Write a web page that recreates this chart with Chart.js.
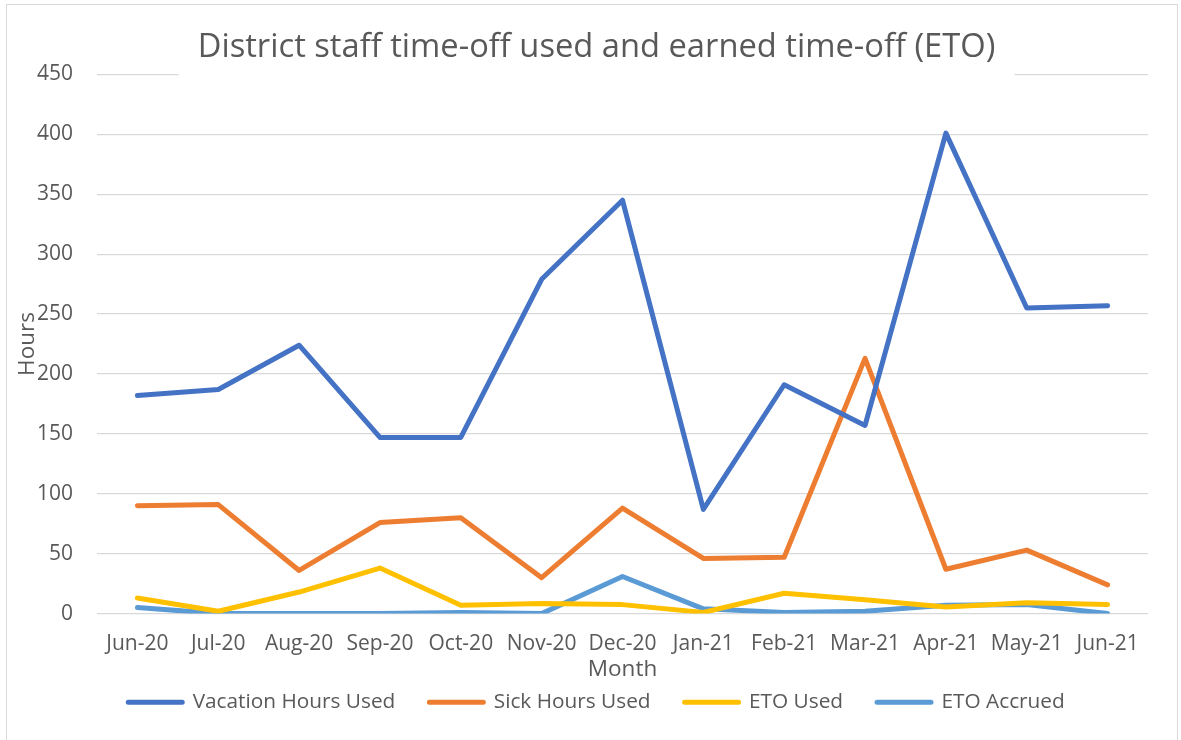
<!DOCTYPE html>
<html>
<head>
<meta charset="utf-8">
<script src="https://cdn.jsdelivr.net/npm/chart.js@4"></script>
<style>
  html, body { margin: 0; padding: 0; background: #fff; overflow: hidden; }
  #wrap { position: relative; width: 1181px; height: 740px; }
  #frame { position: absolute; left: 6px; top: 4px; width: 1170px; height: 760px; border: 1px solid #d9d9d9; pointer-events: none; }
</style>
</head>
<body>
<div id="wrap">
  <canvas id="chart" width="1181" height="740"></canvas>
  <div id="frame"></div>
</div>
<script>
const months = ['Jun-20', 'Jul-20', 'Aug-20', 'Sep-20', 'Oct-20', 'Nov-20', 'Dec-20', 'Jan-21', 'Feb-21', 'Mar-21', 'Apr-21', 'May-21', 'Jun-21']
const vacationUsed = [182, 187, 224, 147, 147, 279, 345, 87, 191, 157, 401, 255, 257]
const sickUsed = [90, 91, 36, 76, 80, 30, 88, 46, 47, 213, 37, 53, 24]
const etoUsed = [13, 2, 18, 38, 7, 8.5, 7.5, 1, 17, 11.5, 5.5, 9, 7.5]
const etoAccrued = [5, 0, 0, 0, 1, 0, 31, 4, 1, 2, 7, 7.5, 0]
const yTicks = [0, 50, 100, 150, 200, 250, 300, 350, 400, 450]

const titleText = 'District staff time-off used and earned time-off (ETO)'
const textColor = '#595959'
const gridColor = '#d9d9d9'

Chart.defaults.font.family = "'Open Sans', sans-serif"
Chart.defaults.color = textColor

const line = (label, data, color) => ({
    label: label,
    data: data,
    borderColor: color,
    backgroundColor: color,
    borderWidth: 5,
    pointRadius: 0,
    tension: 0,
    borderCapStyle: 'round',
    borderJoinStyle: 'round'
})

// white box behind the title that cuts the top gridline
const titleGap = {
    id: 'titleGap',
    beforeDatasetsDraw(chart) {
        const {ctx, chartArea} = chart
        ctx.save()
        ctx.font = "normal 32.7px 'Open Sans', sans-serif"
        const w = ctx.measureText(titleText).width
        const tb = chart.titleBlock
        const cx = tb ? (tb.left + tb.right) / 2 : chart.width / 2
        ctx.fillStyle = '#fff'
        ctx.fillRect(cx - w / 2 - 19, chartArea.top - 3, w + 38, 6)
        ctx.restore()
    }
}

new Chart(document.getElementById('chart').getContext('2d'), {
    type: 'line',
    data: {
        labels: months,
        datasets: [
            line('Vacation Hours Used', vacationUsed, '#4472C4'),
            line('Sick Hours Used', sickUsed, '#ED7D31'),
            line('ETO Used', etoUsed, '#FFC000'),
            line('ETO Accrued', etoAccrued, '#5B9BD5')
        ]
    },
    options: {
        responsive: false,
        animation: false,
        layout: {
            padding: {left: 14, right: 2, top: 0, bottom: 17.4}
        },
        plugins: {
            title: {
                display: true,
                text: titleText,
                color: textColor,
                font: {size: 32.7, weight: 'normal'},
                padding: {top: 28, bottom: 7.2}
            },
            legend: {
                position: 'bottom',
                labels: {
                    boxWidth: 54,
                    boxHeight: 0,
                    padding: 34,
                    color: textColor,
                    font: {size: 20.8}
                }
            },
            tooltip: {enabled: false}
        },
        scales: {
            x: {
                offset: true,
                grid: {display: false, drawTicks: false},
                border: {display: false},
                ticks: {padding: 18, font: {size: 21}, maxRotation: 0, autoSkip: false},
                title: {
                    display: true,
                    text: 'Month',
                    font: {size: 22.5},
                    padding: {top: -18.5, bottom: -25.5}
                }
            },
            y: {
                min: 0,
                max: 450,
                afterBuildTicks: (scale) => { scale.ticks = yTicks.map(v => ({value: v})) },
                grid: {color: gridColor, lineWidth: 1.3, drawTicks: false},
                border: {display: false},
                ticks: {padding: 24, font: {size: 21}},
                title: {
                    display: true,
                    text: 'Hours',
                    font: {size: 22.5},
                    padding: 0
                },
                afterFit: (scale) => { scale.width = 83 }
            },
            y2: {
                position: 'right',
                display: true,
                grid: {display: false, drawTicks: false},
                border: {display: false},
                ticks: {display: false},
                afterFit: (scale) => { scale.width = 31 }
            }
        }
    },
    plugins: [titleGap]
})
</script>
</body>
</html>
